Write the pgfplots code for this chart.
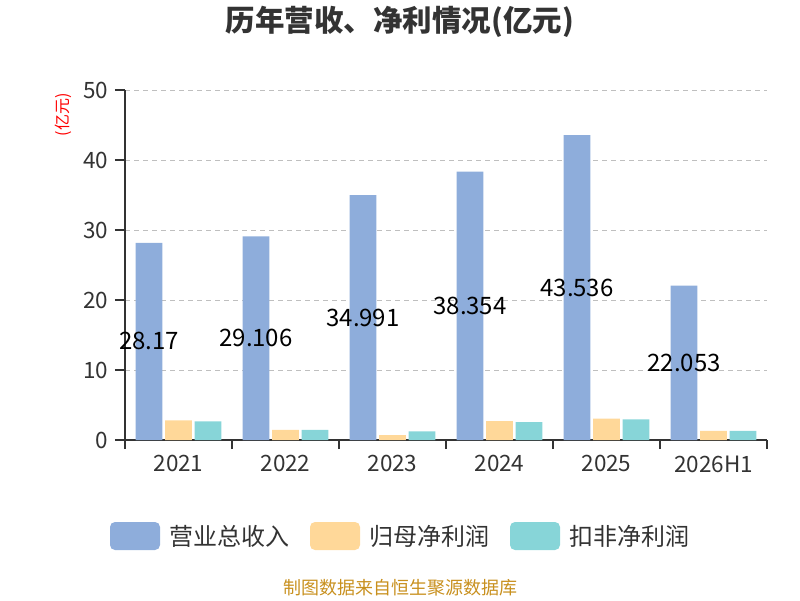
\documentclass[border=0pt]{standalone}
\usepackage{fontspec}
\setmainfont{Noto Sans CJK SC}
\usepackage{pgfplots}
\pgfplotsset{compat=1.18}
\definecolor{cblue}{HTML}{8EADDB}
\definecolor{corange}{HTML}{FFD899}
\definecolor{cteal}{HTML}{87D5D8}
\definecolor{ctext}{HTML}{333333}
\definecolor{cfoot}{HTML}{C8901E}
\begin{document}
\begin{tikzpicture}[x=1pt,y=1pt]
\path[use as bounding box] (0,0) rectangle (800,600);
\begin{axis}[
  at={(125pt,160pt)}, anchor=south west,
  scale only axis, width=642pt, height=350pt,
  xmin=-0.5, xmax=5.5, ymin=0, ymax=50,
  axis lines=left,
  axis line style={-, ctext, line width=1.3pt},
  ytick={0,10,...,50},
  ymajorgrids,
  grid style={color=black!25, line width=0.9pt, dash pattern=on 5pt off 4pt},
  xtick={0,...,5},
  xticklabels={2021,2022,2023,2024,2025,2026H1},
  minor xtick={-0.5,0.5,...,5.5},
  tick align=outside,
  major x tick style={draw=none},
  minor x tick style={ctext, line width=1.3pt},
  major y tick style={ctext, line width=1.3pt},
  major tick length=10pt,
  minor tick length=9pt,
  tick label style={font=\fontsize{22.5}{26}\selectfont, text=ctext},
  /pgf/number format/assume math mode=true,
  yticklabel style={xshift=-3pt},
  xticklabel style={yshift=-2pt},
  clip=false,
]
\addplot[ybar, bar width=26.7pt, bar shift=-29.5pt, fill=cblue, draw=none]
  coordinates {(0,28.17) (1,29.106) (2,34.991) (3,38.354) (4,43.536) (5,22.053)};
\addplot[ybar, bar width=26.7pt, bar shift=0pt, fill=corange, draw=none]
  coordinates {(0,2.81) (1,1.43) (2,0.71) (3,2.71) (4,3.05) (5,1.29)};
\addplot[ybar, bar width=26.7pt, bar shift=29.5pt, fill=cteal, draw=none]
  coordinates {(0,2.67) (1,1.43) (2,1.24) (3,2.57) (4,2.95) (5,1.29)};
\addplot[draw=none, mark=none, nodes near coords, point meta=explicit symbolic,
  nodes near coords align={center},
  every node near coord/.append style={xshift=-29.5pt, text=black, font=\fontsize{24}{28}\selectfont, inner sep=0pt}]
  coordinates {(0,14.085)[28.17] (1,14.553)[29.106] (2,17.4955)[34.991] (3,19.177)[38.354] (4,21.768)[43.536] (5,11.0265)[22.053]};
\end{axis}
\node[font=\fontsize{29.5}{34}\selectfont\bfseries, text=ctext] at (400,578) {历年营收、净利情况(亿元)};
\node[font=\fontsize{16}{19}\selectfont, text=red, rotate=90] at (63,485) {(亿元)};
% legend
\fill[cblue, rounded corners=5pt] (110,50) rectangle (160,78);
\node[anchor=west, font=\fontsize{24}{28}\selectfont, text=ctext, inner sep=0pt] at (169,64) {营业总收入};
\fill[corange, rounded corners=5pt] (310,50) rectangle (360,78);
\node[anchor=west, font=\fontsize{24}{28}\selectfont, text=ctext, inner sep=0pt] at (369,64) {归母净利润};
\fill[cteal, rounded corners=5pt] (510,50) rectangle (560,78);
\node[anchor=west, font=\fontsize{24}{28}\selectfont, text=ctext, inner sep=0pt] at (569,64) {扣非净利润};
\node[font=\fontsize{18}{21}\selectfont, text=cfoot] at (400,12) {制图数据来自恒生聚源数据库};
\end{tikzpicture}
\end{document}
